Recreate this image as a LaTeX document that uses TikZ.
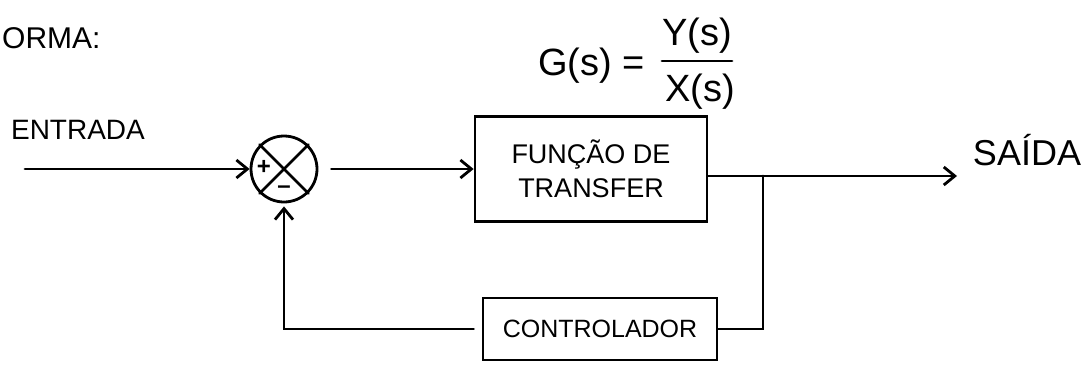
\documentclass[tikz,border=0pt]{standalone}
\usepackage{fontspec}
\setmainfont{Liberation Sans}
\usetikzlibrary{arrows.meta}
\tikzset{
  wire/.style={line width=2.8pt, line cap=round},
  arr/.style={wire, -{Straight Barb[length=11pt,width=18pt,line width=2.8pt]}},
  blockbox/.style={draw, line width=2.8pt, align=center, inner sep=0pt},
  lbl/.style={inner sep=0pt},
  eqtxt/.style={lbl, font=\fontsize{38}{44}\selectfont}
}
\begin{document}
\begin{tikzpicture}[x=1pt,y=-1pt]
\useasboundingbox[fill=white] (0,0) rectangle (1087,365);
% title
\node[lbl, anchor=west, font=\fontsize{30}{36}\selectfont] (title) at (2,38) {ORMA:};
% formula
\node[eqtxt, anchor=east] (gs) at (645,66) {G(s) =};
\node[eqtxt] (num) at (697,36) {Y(s)};
\node[eqtxt] (den) at (700,92) {X(s)};
\draw[wire] (num.south west |- 0,61) -- (num.south east |- 0,61);
% input
\node[lbl, font=\fontsize{28}{34}\selectfont] (entrada) at (78,130) {ENTRADA};
\coordinate (in) at (25,169);
% summing junction
\node[circle, draw, line width=2.8pt, minimum size=66pt, inner sep=0pt] (sum) at (284,169) {};
\draw[wire] (sum.north west) -- (sum.south east);
\draw[wire] (sum.north east) -- (sum.south west);
\node[lbl, font=\fontsize{24}{28}\selectfont\bfseries] (plus) at (264,167) {+};
\node[lbl, font=\fontsize{24}{28}\selectfont\bfseries] (minus) at (284,190) {–};
% transfer function block
\node[blockbox, minimum width=232pt, minimum height=105pt, font=\fontsize{27}{34}\selectfont] (tf) at (591,169) {FUNÇÃO DE\\TRANSFER};
% controller
\node[blockbox, minimum width=234pt, minimum height=62pt, font=\fontsize{25}{30}\selectfont] (ctrl) at (600,329) {CONTROLADOR};
% output
\coordinate (out) at (763,176);
\coordinate (outend) at (957,176);
\node[lbl, font=\fontsize{36}{42}\selectfont] (saida) at (1027,150) {SAÍDA};
% connectors
\draw[arr] (in) -- (sum.west);
\draw[arr] ([xshift=13pt]sum.east) -- (tf.west);
\draw[wire] (tf.east |- out) -- (out);
\draw[arr] (out) -- (outend);
\draw[wire] (out) |- (ctrl.east);
\draw[arr] ([xshift=-8pt]ctrl.west) -| ([yshift=-3pt]sum.south);
\end{tikzpicture}
\end{document}
